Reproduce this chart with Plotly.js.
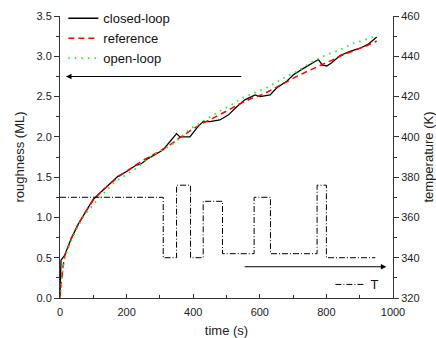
<!DOCTYPE html>
<html>
<head>
<meta charset="utf-8">
<script src="https://cdn.plot.ly/plotly-3.0.1.min.js"></script>
<style>html,body{margin:0;padding:0;background:#fff}#chart{width:436px;height:338px}</style>
</head>
<body>
<div id="chart"></div>
<script>
// closed-loop roughness
const tClosed = [0, 3, 14, 34, 54, 74, 99, 124, 144, 174, 204, 229, 242, 264, 290, 310, 350, 360, 390, 415, 430, 450, 480, 505, 530, 555, 586, 601, 631, 651, 681, 701, 731, 751, 776, 788, 801, 816, 841, 871, 901, 926, 951];
const rClosed = [0, 0.47, 0.53, 0.74, 0.91, 1.05, 1.22, 1.32, 1.40, 1.51, 1.58, 1.65, 1.66, 1.73, 1.79, 1.84, 2.04, 2.00, 2.00, 2.13, 2.19, 2.19, 2.21, 2.27, 2.37, 2.46, 2.52, 2.50, 2.52, 2.61, 2.69, 2.77, 2.85, 2.90, 2.96, 2.89, 2.88, 2.92, 3.01, 3.06, 3.10, 3.15, 3.24];
// reference roughness
const tRef = [0, 2, 9, 14, 34, 54, 74, 99, 124, 150, 180, 210, 250, 290, 330, 360, 400, 430, 460, 500, 535, 571, 611, 646, 676, 711, 746, 781, 816, 851, 891, 921, 951];
const rRef = [0, 0.12, 0.39, 0.52, 0.74, 0.91, 1.05, 1.21, 1.32, 1.42, 1.52, 1.60, 1.71, 1.80, 1.90, 1.99, 2.10, 2.17, 2.23, 2.32, 2.40, 2.47, 2.53, 2.61, 2.68, 2.75, 2.82, 2.88, 2.95, 3.02, 3.08, 3.13, 3.19];
// open-loop roughness
const tOpen = [0, 2, 9, 14, 34, 54, 74, 104, 134, 164, 199, 229, 270, 300, 335, 355, 395, 440, 480, 525, 540, 586, 631, 671, 716, 756, 796, 841, 881, 926, 950];
const rOpen = [0, 0.10, 0.37, 0.50, 0.72, 0.89, 1.03, 1.18, 1.31, 1.44, 1.53, 1.61, 1.75, 1.82, 1.90, 1.97, 2.11, 2.22, 2.32, 2.42, 2.47, 2.55, 2.63, 2.73, 2.82, 2.93, 3.01, 3.08, 3.16, 3.22, 3.25];
// temperature steps
const tTemp = [0, 310, 350, 392, 430, 488, 583, 632, 772, 800, 947];
const TTemp = [370, 340, 376, 340, 368, 342, 370, 342, 376, 340, 340];
// arrows (axis-pointing hints)
const arrowLeft = {from: 549, to: 18, y: 2.75};
const arrowRight = {from: 550, to: 980, y: 335.5};

const FONT = "Liberation Sans, Arial, sans-serif";
const traces = [
  {x: tClosed, y: rClosed, name: 'closed-loop', mode: 'lines', line: {color: '#000', width: 1.3}},
  {x: tRef, y: rRef, name: 'reference', mode: 'lines', line: {color: '#ff0000', width: 1.5, dash: '6px,4px'}},
  {x: tOpen, y: rOpen, name: 'open-loop', mode: 'lines', line: {color: '#22ee22', width: 1.8, dash: '1.5px,5px'}},
  {x: tTemp, y: TTemp, name: 'T', yaxis: 'y2', mode: 'lines', line: {color: '#000', width: 1, dash: '6px,2px,1px,2px', shape: 'hv'}, legend: 'legend2'}
];
const layout = {
  width: 436, height: 338,
  margin: {l: 60, r: 43, t: 16, b: 40, autoexpand: false},
  paper_bgcolor: '#fff', plot_bgcolor: '#fff',
  font: {family: FONT, size: 11, color: '#222'},
  showlegend: true,
  xaxis: {
    range: [0, 1000], dtick: 200, showgrid: false, zeroline: false,
    showline: true, linecolor: '#333', linewidth: 1,
    ticks: 'inside', ticklen: 4, tickcolor: '#333',
    minor: {dtick: 100, ticks: 'inside', ticklen: 3, tickcolor: '#333'},
    ticklabelstandoff: 4,
    title: {text: 'time (s)', font: {size: 13, family: FONT}, standoff: 12}
  },
  yaxis: {
    range: [0, 3.5], dtick: 0.5, tickformat: '.1f', showgrid: false, zeroline: false,
    showline: true, linecolor: '#333', linewidth: 1,
    ticks: 'outside', ticklen: 5, tickcolor: '#333',
    minor: {dtick: 0.25, ticks: 'outside', ticklen: 3, tickcolor: '#333'},
    title: {text: 'roughness (ML)', font: {size: 13, family: FONT}, standoff: 8}
  },
  yaxis2: {
    range: [320, 460], dtick: 20, overlaying: 'y', side: 'right', showgrid: false, zeroline: false,
    showline: true, linecolor: '#333', linewidth: 1,
    ticks: 'outside', ticklen: 5, tickcolor: '#333',
    minor: {dtick: 10, ticks: 'outside', ticklen: 3, tickcolor: '#333'},
    title: {text: 'temperature (K)', font: {size: 13, family: FONT}, standoff: 5}
  },
  legend: {x: 0.01, y: 1.045, xanchor: 'left', yanchor: 'top', bgcolor: 'rgba(0,0,0,0)',
    font: {size: 13, family: FONT, color: '#111'}, tracegroupgap: 0},
  legend2: {x: 0.812, y: 0.048, xanchor: 'left', yanchor: 'middle', bgcolor: 'rgba(0,0,0,0)',
    font: {size: 13, family: FONT, color: '#111'}},
  annotations: [
    {x: arrowLeft.to, y: arrowLeft.y, ax: arrowLeft.from, ay: arrowLeft.y, xref: 'x', yref: 'y', axref: 'x', ayref: 'y',
     text: '', showarrow: true, arrowhead: 2, arrowsize: 1, arrowwidth: 1.1, arrowcolor: '#000'},
    {x: arrowRight.to, y: arrowRight.y, ax: arrowRight.from, ay: arrowRight.y, xref: 'x', yref: 'y2', axref: 'x', ayref: 'y2',
     text: '', showarrow: true, arrowhead: 2, arrowsize: 1, arrowwidth: 1.1, arrowcolor: '#000'}
  ]
};
Plotly.newPlot('chart', traces, layout, {displayModeBar: false, staticPlot: true});
</script>
</body>
</html>
